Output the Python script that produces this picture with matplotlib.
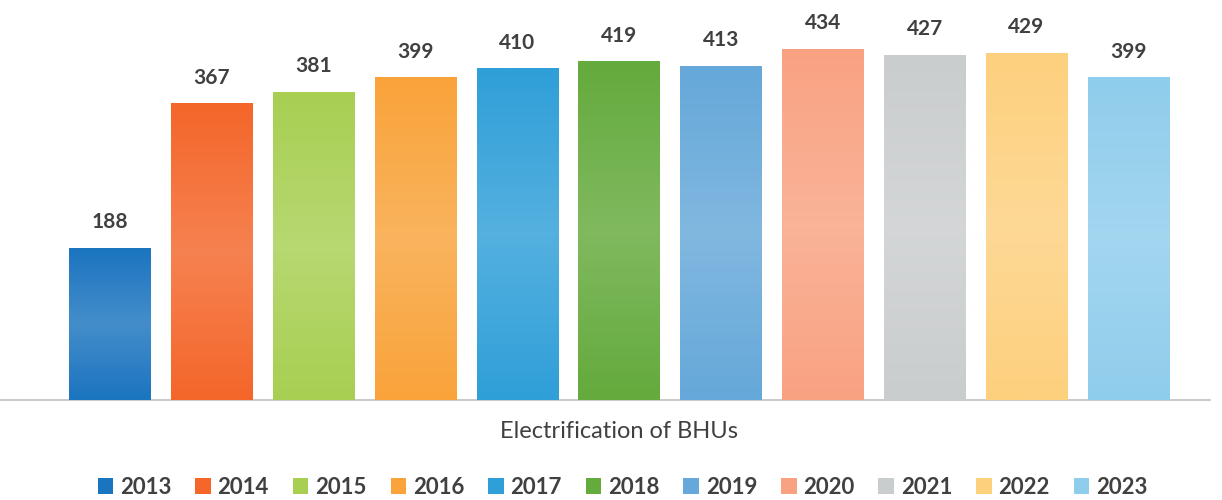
import numpy as np
import matplotlib
matplotlib.use("Agg")
import matplotlib.pyplot as plt
from matplotlib.colors import to_rgb, LinearSegmentedColormap
from matplotlib.patches import Patch

years = ["2013", "2014", "2015", "2016", "2017", "2018", "2019", "2020", "2021", "2022", "2023"]
bhus_electrified = [188, 367, 381, 399, 410, 419, 413, 434, 427, 429, 399]
bar_colors = ["#1b74bf", "#f4662a", "#a8cf52", "#f9a33a", "#2f9fd8", "#64aa3c",
              "#65a8d9", "#f9a282", "#cacdce", "#fdd07e", "#8fcdec"]
category_label = "Electrification of BHUs"

plt.rcParams["font.family"] = ["Lato", "DejaVu Sans"]

fig = plt.figure(figsize=(12.22, 5.0), dpi=100)
ax = fig.add_axes([0.0, 0.2, 0.99, 0.8])

x = np.arange(len(years))
bars = ax.bar(x, bhus_electrified, width=0.8, color=bar_colors, zorder=2)


def lighten(c, f):
    r, g, b = to_rgb(c)
    return (r + (1 - r) * f, g + (1 - g) * f, b + (1 - b) * f)


# soft vertical sheen on each bar: lighter in the middle
for bar, col in zip(bars, bar_colors):
    cmap = LinearSegmentedColormap.from_list(
        "sheen", [to_rgb(col), lighten(col, 0.18), to_rgb(col)])
    grad = np.linspace(0, 1, 256).reshape(-1, 1)
    x0, y0 = bar.get_x(), bar.get_y()
    w, h = bar.get_width(), bar.get_height()
    im = ax.imshow(grad, cmap=cmap, aspect="auto", origin="lower",
                   extent=(x0, x0 + w, y0, y0 + h), zorder=3)
    im.set_clip_path(bar)

for xi, v in zip(x, bhus_electrified):
    ax.annotate(f"{v}", (xi, v), xytext=(0, 18.5), textcoords="offset points",
                ha="center", va="center", fontsize=15, fontweight="bold",
                color="#404040", zorder=4)

ax.set_xlim(-1.08, len(years) - 0.2)
ax.set_ylim(0, 494.7)
for s in ["top", "right", "left"]:
    ax.spines[s].set_visible(False)
ax.spines["bottom"].set_color("#c0c0c0")
ax.spines["bottom"].set_linewidth(1.2)
ax.set_xticks([])
ax.set_yticks([])
ax.patch.set_alpha(0)

fig.text(619 / 1222, 1 - 431 / 500, category_label, ha="center", va="center",
         fontsize=17, color="#404040")

handles = [Patch(facecolor=c, edgecolor="none") for c in bar_colors]
fig.legend(handles, years, loc="center", bbox_to_anchor=(622.5 / 1222, 1 - 487 / 500),
           ncol=len(years), frameon=False, handlelength=0.7, handleheight=0.7,
           handletextpad=0.3, columnspacing=1.08, borderpad=0.0,
           prop={"size": 16, "weight": "bold"}, labelcolor="#404040")

fig.savefig("out.png", dpi=100)
